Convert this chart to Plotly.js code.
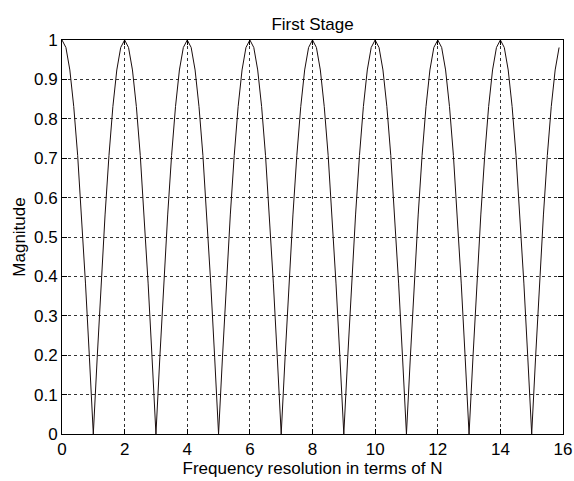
<!DOCTYPE html>
<html>
<head>
<meta charset="utf-8">
<script src="https://cdn.plot.ly/plotly-3.0.1.min.js"></script>
<style>html,body{margin:0;padding:0;background:#fff;}#chart{width:574px;height:481px;}</style>
</head>
<body>
<div id="chart"></div>
<script>
var frequency = [
0,0.125,0.25,0.375,0.5,0.625,0.75,0.875,
1,1.125,1.25,1.375,1.5,1.625,1.75,1.875,
2,2.125,2.25,2.375,2.5,2.625,2.75,2.875,
3,3.125,3.25,3.375,3.5,3.625,3.75,3.875,
4,4.125,4.25,4.375,4.5,4.625,4.75,4.875,
5,5.125,5.25,5.375,5.5,5.625,5.75,5.875,
6,6.125,6.25,6.375,6.5,6.625,6.75,6.875,
7,7.125,7.25,7.375,7.5,7.625,7.75,7.875,
8,8.125,8.25,8.375,8.5,8.625,8.75,8.875,
9,9.125,9.25,9.375,9.5,9.625,9.75,9.875,
10,10.125,10.25,10.375,10.5,10.625,10.75,10.875,
11,11.125,11.25,11.375,11.5,11.625,11.75,11.875,
12,12.125,12.25,12.375,12.5,12.625,12.75,12.875,
13,13.125,13.25,13.375,13.5,13.625,13.75,13.875,
14,14.125,14.25,14.375,14.5,14.625,14.75,14.875,
15,15.125,15.25,15.375,15.5,15.625,15.75,15.875
];
var magnitude = [
1,0.981,0.924,0.831,0.707,0.556,0.383,0.195,0,0.195,0.383,0.556,0.707,0.831,0.924,0.981,
1,0.981,0.924,0.831,0.707,0.556,0.383,0.195,0,0.195,0.383,0.556,0.707,0.831,0.924,0.981,
1,0.981,0.924,0.831,0.707,0.556,0.383,0.195,0,0.195,0.383,0.556,0.707,0.831,0.924,0.981,
1,0.981,0.924,0.831,0.707,0.556,0.383,0.195,0,0.195,0.383,0.556,0.707,0.831,0.924,0.981,
1,0.981,0.924,0.831,0.707,0.556,0.383,0.195,0,0.195,0.383,0.556,0.707,0.831,0.924,0.981,
1,0.981,0.924,0.831,0.707,0.556,0.383,0.195,0,0.195,0.383,0.556,0.707,0.831,0.924,0.981,
1,0.981,0.924,0.831,0.707,0.556,0.383,0.195,0,0.195,0.383,0.556,0.707,0.831,0.924,0.981,
1,0.981,0.924,0.831,0.707,0.556,0.383,0.195,0,0.195,0.383,0.556,0.707,0.831,0.924,0.981
];
var xTicks = [0,2,4,6,8,10,12,14,16];
var yTicks = [0,0.1,0.2,0.3,0.4,0.5,0.6,0.7,0.8,0.9,1];
var chartTitle = 'First Stage';
var xLabel = 'Frequency resolution in terms of N';
var yLabel = 'Magnitude';

var font = {family: '"Liberation Sans", Arial, sans-serif', size: 17, color: '#000'};
var axisCommon = {
  showline: true, linecolor: '#000', linewidth: 1, mirror: 'ticks',
  ticks: 'inside', ticklen: 5, tickcolor: '#000', tickwidth: 1,
  showgrid: true, gridcolor: '#333', griddash: 'dot', gridwidth: 1,
  zeroline: false, tickfont: font, fixedrange: true
};
var layout = {
  width: 574, height: 481,
  margin: {l: 62, r: 11, t: 40, b: 47},
  paper_bgcolor: '#fff', plot_bgcolor: '#fff',
  font: font,
  showlegend: false,
  title: {text: chartTitle, font: font, x: 0.5, xref: 'paper', xanchor: 'center', y: 1, yref: 'paper', yanchor: 'bottom', pad: {b: 10}},
  xaxis: Object.assign({}, axisCommon, {range: [0, 16], tickvals: xTicks, ticktext: xTicks.map(String),
    title: {text: xLabel, font: font, standoff: 3}}),
  yaxis: Object.assign({}, axisCommon, {range: [0, 1], tickvals: yTicks, ticktext: yTicks.map(String),
    title: {text: yLabel, font: font, standoff: 4}})
};
var trace = {x: frequency, y: magnitude, type: 'scatter', mode: 'lines',
  line: {color: '#1a0d0d', width: 1}, hoverinfo: 'skip'};
Plotly.newPlot('chart', [trace], layout, {staticPlot: true, displayModeBar: false});
</script>
</body>
</html>
